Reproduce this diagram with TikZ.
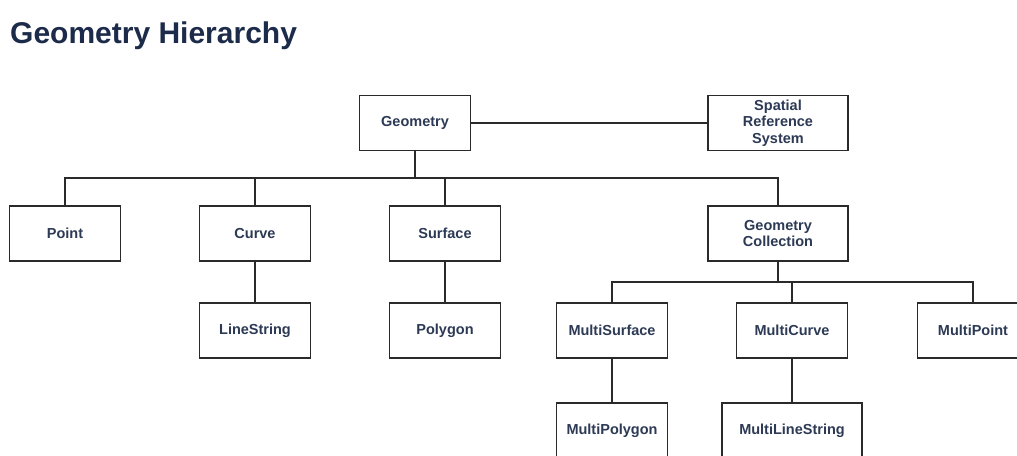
\documentclass[tikz,border=0pt]{standalone}
\usepackage{fontspec}
\setmainfont{Liberation Sans}
\definecolor{titlecol}{HTML}{1C2B4A}
\definecolor{textcol}{HTML}{2D3A55}
\definecolor{linecol}{HTML}{2A2A2A}
\begin{document}
\begin{tikzpicture}[x=1pt,y=-1pt,
  box/.style={draw=linecol, line width=1.3pt, fill=white, minimum width=111pt, minimum height=55pt,
    inner sep=0pt, align=center, text=textcol, font=\fontsize{14.5}{16.5}\selectfont\bfseries},
  widebox/.style={box, minimum width=140pt},
  conn/.style={draw=linecol, line width=1.3pt}]
\useasboundingbox[fill=white] (0,0) rectangle (1017,455);
\node[anchor=base west, text=titlecol, font=\fontsize{30}{36}\selectfont\bfseries, inner sep=0pt] (title) at (10,43) {Geometry Hierarchy};

\node[box] (geo) at (415,123) {Geometry};
\node[widebox] (srs) at (778,123) {Spatial\\Reference\\System};

\node[box] (point) at (65,233.5) {Point};
\node[box] (curve) at (255,233.5) {Curve};
\node[box] (surface) at (445,233.5) {Surface};
\node[widebox] (gc) at (778,233.5) {Geometry\\Collection};

\node[box] (linestring) at (255,330.5) {LineString};
\node[box] (polygon) at (445,330.5) {Polygon};
\node[box] (msurf) at (612,330.5) {MultiSurface};
\node[box] (mcurve) at (792,330.5) {MultiCurve};
\node[box] (mpoint) at (973,330.5) {MultiPoint};

\node[box] (mpoly) at (612,430.5) {MultiPolygon};
\node[widebox] (mls) at (792,430.5) {MultiLineString};

\coordinate (b1) at (415,178);
\coordinate (b2) at (778,282);

\draw[conn] (geo.east) -- (srs.west);
\draw[conn] (geo.south) -- (b1);
\draw[conn] (point.north) |- (b1) -| (gc.north);
\draw[conn] (curve.north) -- (curve.north |- b1);
\draw[conn] (surface.north) -- (surface.north |- b1);
\draw[conn] (curve.south) -- (linestring.north);
\draw[conn] (surface.south) -- (polygon.north);

\draw[conn] (gc.south) -- (b2);
\draw[conn] (msurf.north) |- (b2) -| (mpoint.north);
\draw[conn] (mcurve.north) -- (mcurve.north |- b2);
\draw[conn] (msurf.south) -- (mpoly.north);
\draw[conn] (mcurve.south) -- (mls.north);
\end{tikzpicture}
\end{document}
